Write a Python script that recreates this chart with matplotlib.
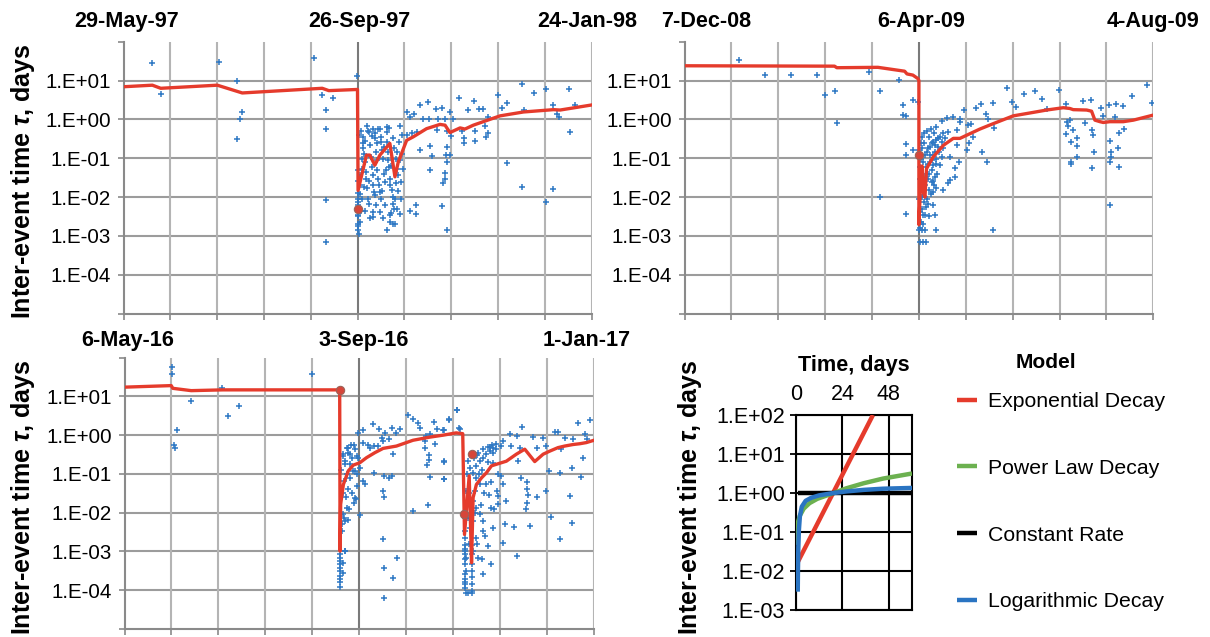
#!/usr/bin/env python3
"""Inter-event times around three Italian sequences plus the model sketch."""
import datetime as dt

import numpy as np
import matplotlib
matplotlib.use("Agg")
import matplotlib.pyplot as plt
from matplotlib.ticker import NullLocator

# ---- Data (days from the first date label, log10 of tau in days) ----------
p1_start = dt.date(1997, 5, 29)
p1_sc_day = [
    14.7, 19.1, 49.0, 58.0, 60.9, 59.5, 58.3, 97.6, 119.8, 101.7,
    107.3, 103.6, 104.1, 104.1, 104.1,
    120.0, 120.0, 120.0, 120.1, 120.0, 120.2, 120.3, 120.3, 120.3, 120.3,
    120.3, 120.7,
    145.5, 148.9, 152.0, 156.0, 160.1, 163.1, 167.4, 146.9, 153.4, 156.8,
    161.4, 164.9, 169.1, 172.2, 176.8, 179.7, 182.5, 184.2, 187.1, 192.2,
    194.3, 196.5, 204.4, 210.7, 216.6, 228.7, 220.5, 222.2, 223.1, 231.6,
    205.6,
    125.0, 126.0, 127.2, 130.6, 131.5, 134.9, 136.3, 141.7, 145.2, 147.7,
    150.3, 160.6, 166.1, 167.9, 173.4, 174.6, 174.6, 180.3, 180.3, 185.4,
    187.1, 185.7, 229.1,
    152.0, 157.2, 158.0, 157.2, 165.7, 165.4, 167.4, 166.1, 164.9, 164.9,
    163.7, 196.9, 204.4, 220.5, 216.6, 146.9, 150.0, 150.0, 163.1, 166.1,
    141.7,
    121.2, 121.2, 121.5, 121.5, 122.1, 122.1, 122.6, 122.9, 123.3, 123.8,
    124.3, 124.6, 125.0, 125.5, 126.0, 126.3, 126.7, 127.2, 127.7, 128.0,
    128.4, 128.0, 128.0, 128.9, 129.4, 129.8, 130.1, 130.6, 131.1, 131.5,
    131.5, 131.8, 132.3, 132.8, 133.2, 133.5, 134.0, 134.0, 134.9, 135.2,
    135.8, 136.3, 136.6, 136.9, 136.9, 137.5, 138.0, 138.0, 138.0, 138.3,
    138.7, 138.7, 139.2, 139.7, 140.0, 140.4, 140.9, 141.4, 141.7, 142.1,
    142.6, 143.1, 142.6, 139.2, 136.6,
    121.0, 121.8, 123.0, 124.0, 125.2, 127.9, 129.0, 130.0, 132.0, 133.8,
    135.5, 137.2, 139.5, 141.0, 142.5, 124.0, 126.5, 129.5, 133.0, 135.0,
    137.0, 122.5, 123.5, 126.0, 129.0, 132.5, 134.5, 121.0, 122.0, 140.5,
]
p1_sc_log = [
    1.46, 0.66, 1.48, 0.99, 0.19, 0.01, -0.51, 1.59, 1.11, 0.62,
    0.55, 0.25, -0.24, -2.08, -3.16,
    -1.30, -1.60, -1.90, -2.20, -2.50, -2.75, -2.04, -2.13, -2.47, -2.69,
    -2.86, -2.30,
    0.19, 0.14, 0.36, 0.44, 0.26, 0.30, 0.19, 0.06, 0.01, 0.00,
    0.00, 0.02, 0.01, 0.55, 0.24, 0.48, 0.27, 0.27, 0.06, 0.62,
    0.29, 0.42, 0.90, 0.68, 0.79, 0.77, 0.36, 0.15, 0.06, 0.37,
    0.23,
    -0.17, -0.33, -0.43, -0.24, -0.25, -0.19, -0.22, -0.17, -0.39, -0.34,
    -0.32, -0.28, -0.29, -0.42, -0.30, -0.49, -0.61, -0.29, -0.55, -0.18,
    -0.34, -0.46, -0.33,
    -0.79, -0.68, -0.94, -1.31, -0.71, -0.92, -0.92, -1.11, -1.37, -1.54,
    -1.65, -1.12, -1.75, -1.79, -2.14, -2.37, -2.20, -2.45, -2.24, -2.86,
    -2.45,
    -1.91, -1.70, -1.44, -2.64, -1.27, -1.01, -0.75, -0.62, -0.88, -1.10,
    -1.35, -1.53, -1.78, -2.04, -2.17, -0.67, -0.97, -1.22, -1.44, -1.70,
    -1.87, -2.39, -2.51, -0.49, -0.84, -1.05, -1.31, -1.53, -1.70, -1.87,
    -2.39, -2.04, -0.58, -0.79, -1.01, -1.40, -1.61, -2.20, -0.32, -0.58,
    -0.84, -1.22, -1.53, -1.70, -2.47, -1.83, -2.00, -2.17, -2.69, -0.49,
    -0.75, -2.30, -2.04, -1.01, -0.84, -1.27, -1.44, -0.58, -1.05, -1.61,
    -0.41, -1.27, -0.88, -2.69, -2.64,
    -0.40, -0.30, -0.45, -0.55, -0.30, -0.25, -0.35, -0.60, -0.45, -0.70,
    -1.05, -1.20, -1.65, -1.85, -2.05, -2.35, -2.55, -2.20, -2.55, -2.85,
    -2.40, -2.05, -1.75, -1.60, -1.95, -1.85, -1.30, -2.95, -2.35, -2.30,
]
p1_fit_day = [0.0, 14.8, 19.1, 48.1, 60.9, 101.9, 105.3, 120.0, 120.3, 124.6,
              126.3, 128.9, 131.5, 136.6, 139.2, 140.9, 145.2, 148.6, 155.4,
              162.3, 164.9, 167.4, 172.6, 175.1, 179.4, 184.5, 193.1, 205.1,
              220.5, 223.9, 240.0]
p1_fit_log = [0.84, 0.88, 0.80, 0.88, 0.68, 0.80, 0.74, 0.77, -1.83, -0.92,
              -0.92, -1.18, -0.92, -0.62, -1.48, -1.10, -0.54, -0.45, -0.24,
              -0.13, -0.15, -0.34, -0.22, -0.25, -0.15, -0.06, 0.09, 0.19,
              0.25, 0.24, 0.37]
p1_dot_day = [120.1]
p1_dot_log = [-2.30]

p2_start = dt.date(2008, 12, 7)
p2_sc_day = [
    27.8, 41.1, 54.6, 67.9, 72.0, 77.2, 78.0, 94.7, 99.9, 99.9,
    109.9, 112.0, 116.9, 113.3, 113.5, 116.9, 113.5, 113.5, 112.0, 119.7,
    120.5, 121.9, 123.6, 120.0, 121.4, 123.1,
    164.9, 173.9, 179.4, 182.8, 191.9, 167.5, 169.7, 185.7, 195.1, 204.2,
    208.1, 213.2, 217.5, 220.7, 224.6, 228.9, 236.6, 239.1, 214.4, 220.6,
    151.6, 149.2, 158.1, 154.3, 155.5, 143.2, 141.0, 146.5, 145.3, 158.6,
    144.4, 147.5, 145.8, 152.1, 154.7, 139.3, 139.6, 140.7, 138.4, 138.4,
    135.0, 135.9, 132.5, 134.2, 131.6, 137.6, 141.0,
    195.6, 197.3, 196.5, 198.7, 195.1, 197.8, 200.7, 200.7, 205.0, 208.4,
    209.3, 209.6, 208.4, 200.7, 197.8, 197.8, 217.8, 218.1, 218.1, 217.8,
    222.1, 222.4, 225.0, 222.4, 217.8, 158.1, 128.7,
    120.9, 122.2, 121.4, 123.6, 122.6, 124.8, 123.9, 126.0, 125.3, 127.3,
    127.7, 129.0, 126.5, 128.2, 129.4, 124.8, 123.1, 121.9, 120.9, 120.5,
    121.2, 122.2, 123.1, 123.9, 124.8, 125.6, 126.5, 127.3, 128.2, 129.0,
    129.9, 130.8, 130.4, 131.6, 129.0, 127.3, 126.5, 125.3, 123.6, 130.8,
    132.5, 133.3, 135.0, 135.9, 121.4, 120.9, 122.6, 123.9, 125.6, 127.3,
    128.7, 129.9, 131.6, 132.1, 120.5, 120.2, 120.5, 123.1, 127.3, 128.2,
    120.3, 121.0, 121.8, 122.8, 124.0, 125.0, 126.0, 127.5, 128.5, 121.5,
    122.0, 120.5, 123.0, 124.5, 126.5, 128.0, 125.0, 127.0,
]
p2_sc_log = [
    1.54, 1.13, 1.14, 1.14, 0.62, 0.73, -0.10, 1.23, 0.73, -2.00,
    1.01, 0.36, 0.51, 0.09, -0.64, -0.79, -0.92, -2.45, 0.10, 0.45,
    -3.16, -3.16, -3.16, -2.86, -2.86, -2.86,
    0.81, 0.66, 0.74, 0.52, 0.75, 0.44, 0.31, 0.26, 0.40, 0.48,
    0.50, 0.29, 0.38, 0.40, 0.35, 0.61, 0.89, 0.41, 0.09, 0.05,
    0.40, 0.30, 0.43, 0.13, 0.00, 0.24, 0.00, -0.11, -0.15, -0.22,
    -0.79, -0.45, -0.60, -0.84, -1.10, -0.28, -0.67, -1.10, -1.25, -1.48,
    -1.65, -1.57, -1.81, 0.04, -0.05, 0.07, -0.06,
    -0.08, -0.02, -0.17, -0.28, -0.37, -0.58, -0.48, -0.69, -0.09, -0.28,
    -0.41, -0.84, -1.24, -0.98, -1.10, -1.16, -0.56, -0.84, -0.97, -1.11,
    -0.75, -0.34, -0.25, -1.23, -2.20, -2.86, -2.86,
    -2.64, -2.47, -2.30, -2.26, -2.13, -2.17, -2.04, -1.91, -1.83, -1.87,
    -1.70, -1.78, -1.61, -1.48, -1.40, -1.53, -1.70, -1.96, -1.78, -1.53,
    -1.27, -1.10, -0.92, -0.84, -0.75, -0.71, -0.62, -0.58, -0.67, -0.54,
    -0.49, -0.45, -0.84, -0.97, -1.01, -1.18, -1.31, -1.40, -1.22, -1.18,
    -0.36, -0.49, -0.32, -0.97, -0.75, -1.01, -0.62, -1.40, -0.92, -0.92,
    -1.16, -0.71, -0.58, -0.75, -1.22, -2.04, -2.39, -2.47, -2.21, -2.47,
    -0.80, -0.60, -0.45, -0.35, -0.30, -0.45, -0.25, -0.35, -0.20, -2.00,
    -2.70, -2.80, -1.50, -1.15, -1.05, -0.85, -2.50, -1.60,
]
p2_fit_day = [0.0, 76.8, 78.0, 99.0, 112.7, 113.9, 116.9, 119.5, 120.0, 120.0,
              120.9, 121.6, 122.4, 123.1, 123.9, 127.3, 132.5, 137.6, 141.0,
              144.4, 151.2, 158.1, 168.3, 178.6, 185.4, 193.9, 197.3, 199.0,
              205.9, 208.4, 210.1, 212.7, 214.4, 217.8, 224.6, 229.8, 240.0]
p2_fit_log = [1.38, 1.37, 1.33, 1.34, 1.24, 1.17, 1.14, 1.05, 1.00, -2.71,
              -1.61, -1.20, -1.90, -2.00, -1.27, -0.97, -0.67, -0.49, -0.49,
              -0.41, -0.25, -0.11, 0.09, 0.18, 0.24, 0.30, 0.28, 0.25,
              0.24, 0.21, -0.02, -0.06, -0.08, -0.06, -0.06, -0.02, 0.11]
p2_dot_day = [120.0]
p2_dot_log = [-0.91]

p3_start = dt.date(2016, 5, 6)
p3_sc_day = [
    24.4, 24.4, 34.1, 49.8, 52.9, 58.5, 26.8, 25.1, 25.6, 95.7,
    110.2, 110.2, 110.2, 110.2, 110.2, 110.2, 110.2, 110.2, 110.2, 110.2,
    111.7, 111.7,
    114.5, 117.2, 111.7, 112.5, 115.1, 117.6, 118.5, 114.8, 111.7, 112.5,
    112.5,
    122.0, 119.5, 127.1, 130.2, 133.1, 136.5, 139.0, 141.0, 144.9, 147.5,
    150.0, 151.2, 154.3, 158.2, 159.9, 163.1, 165.8, 169.9, 171.2, 156.0,
    153.4, 158.7, 153.7, 155.4, 155.4, 154.8, 156.0, 163.2, 163.2, 147.5,
    155.1, 132.7, 136.5, 135.0, 137.0, 132.2, 132.7, 127.6, 125.4, 127.6,
    129.7, 124.6, 122.1, 132.2, 135.0, 131.4, 132.2, 132.5, 137.0, 139.5,
    132.5, 120.3,
    113.6, 111.9, 112.7, 114.4, 116.1, 115.3, 117.0, 113.6, 112.2, 114.4,
    116.1, 117.9, 117.3, 113.6, 112.2, 111.0, 119.5, 120.3, 122.0, 122.9,
    118.7, 115.6, 118.6, 111.0, 112.7,
    174.0, 174.0, 174.2, 174.0, 174.4, 174.0, 174.4, 174.0, 174.4,
    170.0, 166.0, 171.7, 162.9, 163.4, 163.2,
    174.0, 174.0, 174.0, 174.2, 174.0, 174.2, 174.0, 174.2,
    177.4, 177.4, 177.4, 177.4, 177.4, 177.4, 177.4, 177.4, 175.7,
    175.7, 176.5, 178.2, 179.9, 181.6, 183.3, 185.0, 186.7, 188.4, 190.1,
    192.7, 180.8, 183.3, 185.9, 188.4, 179.9, 181.6, 179.1, 178.2, 179.9,
    181.6, 183.3, 183.3, 179.6, 180.8, 182.5, 178.2, 175.7, 175.7, 174.8,
    185.0, 186.4, 187.1, 188.4, 185.9, 183.3, 187.1, 191.0, 191.0, 190.5,
    192.7, 193.5, 195.2, 194.4, 193.5, 199.0, 200.8, 188.4, 191.0,
    186.7, 188.0, 190.0, 193.5, 196.9, 200.7, 203.4, 197.8, 202.0, 201.2,
    202.9, 205.8, 205.8, 206.3, 205.8, 205.4, 207.1, 211.1, 208.8, 210.9,
    214.0, 215.7, 217.0, 215.3, 218.2, 219.9, 221.6, 223.3, 222.5, 228.7,
    227.6, 225.0, 229.3, 231.8, 234.4, 235.2, 238.1, 233.5, 228.9, 222.5,
    236.5,
    110.8, 111.5, 113.0, 114.0, 115.5, 118.0, 119.0, 175.0, 176.0, 176.5,
    178.5, 179.0, 180.0, 181.0, 182.0, 183.0, 184.0, 186.0, 187.5, 189.0,
    176.0, 178.0, 180.0, 184.5,
]
p3_sc_log = [
    1.77, 1.57, 0.88, 1.21, 0.50, 0.75, 0.13, -0.25, -0.32, 1.59,
    -3.07, -3.16, -3.25, -3.33, -3.42, -3.50, -3.63, -3.72, -3.80, -3.92,
    -3.29, -3.55,
    -0.32, -0.24, -0.54, -0.75, -0.49, -0.92, -1.65, -1.91, -2.04, -2.21,
    -2.99,
    0.13, 0.07, 0.28, 0.15, 0.07, 0.19, 0.07, 0.15, 0.52, 0.41,
    0.32, 0.19, -0.02, 0.35, 0.15, 0.13, 0.41, 0.65, 0.18, 0.04,
    -0.15, -0.22, -0.34, -0.51, -0.63, -0.77, -1.08, -0.67, -1.14, -1.96,
    -1.79, -1.05, -1.05, -1.10, -0.49, -1.44, -1.59, -0.97, -0.32, -0.28,
    -0.28, -0.24, -0.19, -0.15, -0.11, -0.06, -2.69, -3.42, -3.69, -3.16,
    -4.19, -2.06,
    -0.32, -0.49, -0.67, -0.45, -0.58, -0.75, -0.92, -1.01, -1.18, -1.40,
    -1.48, -1.61, -1.74, -1.87, -2.13, -2.30, -0.58, -0.84, -1.18, -1.27,
    -1.31, -0.24, -0.54, -2.47, -2.99,
    -2.13, -2.47, -2.82, -2.99, -3.16, -3.33, -3.50, -3.80, -4.06,
    0.65, 0.39, 0.17, 0.13, -0.68, -1.13,
    -2.64, -2.94, -3.07, -3.20, -3.59, -3.72, -3.85, -3.93,
    -2.82, -3.07, -3.33, -3.50, -3.67, -3.85, -4.02, -4.07, -4.07,
    -0.67, -0.84, -0.97, -0.79, -0.67, -0.58, -0.49, -0.41, -0.32, -0.36,
    -0.28, -0.45, -0.36, -0.30, -0.45, -1.10, -1.27, -1.44, -1.70, -1.87,
    -2.04, -2.21, -2.47, -2.64, -3.16, -3.20, -2.21, -1.78, -2.13, -1.44,
    -1.27, -1.53, -1.87, -2.39, -2.86, -3.59, -3.31, -1.57, -1.78, -1.44,
    -1.05, -1.27, -1.70, -2.30, -2.77, -2.37, -3.12, -0.71, -1.01,
    -0.30, -0.26, -0.22, -0.15, 0.04, -0.02, 0.22, -0.28, -0.32, -0.67,
    -1.10, -1.22, -1.40, -1.53, -1.74, -1.91, -2.34, -1.59, -0.04, -0.32,
    -0.06, -0.28, -0.92, -1.44, -2.11, 0.09, 0.09, -0.36, -0.97, -0.84,
    -1.57, -0.06, -0.11, 0.32, -0.58, 0.02, 0.40, -1.08, -2.27, -2.67,
    -0.10,
    -0.90, -1.50, -1.60, -2.20, -1.10, -0.35, -1.00, -1.00, -1.50, -2.40,
    -0.60, -2.00, -0.50, -1.00, -1.80, -0.90, -1.50, -0.70, -1.20, -1.90,
    -2.80, -3.00, -2.80, -2.60,
]
p3_fit_day = [0.0, 23.9, 24.7, 34.1, 50.3, 110.0, 110.2, 110.5, 111.9, 114.4,
              117.0, 120.3, 123.7, 128.0, 132.2, 139.0, 147.5, 156.0, 162.7,
              169.5, 172.9, 173.8, 176.2, 177.4, 178.2, 179.9, 182.5, 185.0,
              187.6, 190.1, 195.2, 200.3, 204.6, 209.7, 214.0, 217.4, 221.6,
              225.0, 229.3, 232.7, 236.1, 240.0]
p3_fit_log = [1.24, 1.28, 1.21, 1.15, 1.17, 1.17, -2.99, -1.78, -1.27, -0.92,
              -0.77, -0.71, -0.58, -0.45, -0.34, -0.28, -0.13, -0.05, 0.00,
              0.06, 0.04, -2.56, -1.05, -3.29, -1.61, -1.27, -1.10, -0.97,
              -0.79, -0.75, -0.67, -0.49, -0.36, -0.68, -0.49, -0.41, -0.32,
              -0.28, -0.24, -0.22, -0.19, -0.13]
p3_dot_day = [110.0, 177.4, 173.3]
p3_dot_log = [1.17, -0.49, -2.04]

# model sketch: time in days, log10 tau
model_names = ["Exponential Decay", "Power Law Decay", "Constant Rate",
               "Logarithmic Decay"]
exp_day = [0.0, 39.8]
exp_log = [-1.86, 2.0]
pow_day = [0.0, 0.3, 1.0, 2.0, 4.0, 7.0, 11.0, 15.0, 19.5, 26.0, 35.0, 45.0,
           60.0]
pow_log = [-1.33, -1.0, -0.75, -0.58, -0.40, -0.26, -0.15, -0.08, 0.0, 0.12,
           0.25, 0.37, 0.50]
const_day = [0.9, 60.0]
const_log = [0.0, 0.0]
logd_day = [0.9, 1.0, 1.2, 1.5, 2.0, 3.0, 5.0, 8.0, 12.0, 19.5, 26.0, 35.0,
            45.0, 60.0]
logd_log = [-2.53, -2.0, -1.4, -0.95, -0.6, -0.35, -0.2, -0.12, -0.06, 0.0,
            0.04, 0.08, 0.11, 0.13]

RED = "#e53b2c"
BLUE = "#2e78c4"
GREEN = "#6cb150"
MBLUE = "#2a74c2"

W, H = 1210, 637

plt.rcParams["font.family"] = ["Liberation Sans", "DejaVu Sans"]
plt.rcParams["mathtext.fontset"] = "custom"
plt.rcParams["mathtext.rm"] = "Liberation Sans:bold"
plt.rcParams["mathtext.it"] = "Liberation Sans:bold:italic"
plt.rcParams["mathtext.bf"] = "Liberation Sans:bold"


def date_label(d):
    return f"{d.day}-{d.strftime('%b-%y')}"


def seq_panel(fig, rect, start, sc_day, sc_log, fit_day, fit_log, dot_day,
              dot_log, label_dx=(0, 0, 0), label_dy=20):
    ax = fig.add_axes(rect)
    ax.set_yscale("log")
    ax.set_xlim(0, 240)
    ax.set_ylim(1e-5, 1e2)
    ax.set_xticks(np.arange(0, 241, 24))
    ax.set_xticklabels([])
    decades = 10.0 ** np.arange(-5, 3)
    ax.set_yticks(decades)
    ax.yaxis.set_minor_locator(NullLocator())
    ax.set_yticklabels(["", "1.E-04", "1.E-03", "1.E-02", "1.E-01",
                        "1.E+00", "1.E+01", ""])
    for d in decades[1:-1]:
        ax.axhline(d, color="#9c9c9c", lw=1.5, zorder=1)
    for x in np.arange(24, 241, 24):
        c = "#7a7a7a" if x == 120 else "#b4b4b4"
        ax.axvline(x, color=c, lw=1.5, zorder=1)
    for s in ("top", "right"):
        ax.spines[s].set_visible(False)
    for s in ("left", "bottom"):
        ax.spines[s].set_color("#8a8a8a")
        ax.spines[s].set_linewidth(1.5)
    ax.tick_params(direction="out", length=4, width=1.2, color="#8a8a8a",
                   labelsize=14.8, pad=5)

    ax.plot(sc_day, 10.0 ** np.array(sc_log), "+", color=BLUE, ms=4.6,
            mew=1.1, zorder=3)
    ax.plot(fit_day, 10.0 ** np.array(fit_log), color=RED, lw=2.4,
            zorder=4, solid_joinstyle="round")
    ax.plot(dot_day, 10.0 ** np.array(dot_log), "o", ms=6, mfc="#d6463a",
            mec="#9c6258", mew=0.8, zorder=5)

    for d, dx in zip((0, 120, 240), label_dx):
        ax.annotate(date_label(start + dt.timedelta(days=d)), xy=(d, 1.0),
                    xycoords=("data", "axes fraction"),
                    xytext=(dx * 0.72, label_dy * 0.72),
                    textcoords="offset points", ha="center", va="center",
                    fontsize=15.6, fontweight="bold")
    return ax


def main():
    fig = plt.figure(figsize=(W / 100, H / 100), dpi=100)

    def rect(x0, x1, y0, y1):
        return [x0 / W, 1 - y1 / H, (x1 - x0) / W, (y1 - y0) / H]

    seq_panel(fig, rect(123.5, 591.5, 41.7, 313.5), p1_start, p1_sc_day,
              p1_sc_log, p1_fit_day, p1_fit_log, p1_dot_day, p1_dot_log,
              label_dx=(3, 2, -4))
    seq_panel(fig, rect(684.5, 1153.3, 41.7, 313.5), p2_start, p2_sc_day,
              p2_sc_log, p2_fit_day, p2_fit_log, p2_dot_day, p2_dot_log,
              label_dx=(22, 2, 0))
    seq_panel(fig, rect(124.5, 594, 357.7, 629), p3_start, p3_sc_day,
              p3_sc_log, p3_fit_day, p3_fit_log, p3_dot_day, p3_dot_log,
              label_dx=(3, 4, -7), label_dy=17)

    ylab = r"Inter-event time $\tau$, days"
    fig.text(23 / W, 1 - 181 / H, ylab, rotation=90, ha="center",
             va="center", fontsize=18, fontweight="bold")
    fig.text(23 / W, 1 - 497 / H, ylab, rotation=90, ha="center",
             va="center", fontsize=18, fontweight="bold")
    fig.text(690 / W, 1 - 497 / H, ylab, rotation=90, ha="center",
             va="center", fontsize=18, fontweight="bold")

    # ---- model sketch -----------------------------------------------------
    ax = fig.add_axes(rect(796, 912, 415, 610))
    ax.set_yscale("log")
    ax.set_xlim(0, 60)
    ax.set_ylim(1e-3, 1e2)
    ax.xaxis.tick_top()
    ax.set_xticks([0, 24, 48])
    ax.set_yticks(10.0 ** np.arange(-3, 3))
    ax.yaxis.set_minor_locator(NullLocator())
    ax.set_yticklabels(["1.E-03", "1.E-02", "1.E-01", "1.E+00", "1.E+01",
                        "1.E+02"])
    ax.grid(True, color="black", lw=1.5)
    for s in ax.spines.values():
        s.set_color("black")
        s.set_linewidth(1.5)
    ax.tick_params(direction="out", length=4, width=1.3, labelsize=15.5,
                   pad=4)
    ax.tick_params(axis="x", length=0, pad=7)
    ax.set_title("Time, days", fontsize=15.6, fontweight="bold", pad=32)

    lines = []
    for xs, ys, c in ((exp_day, exp_log, RED), (pow_day, pow_log, GREEN),
                      (const_day, const_log, "black"),
                      (logd_day, logd_log, MBLUE)):
        ln, = ax.plot(xs, 10.0 ** np.array(ys), color=c, lw=3.2,
                      solid_capstyle="butt", zorder=3, clip_on=True)
        lines.append(ln)

    fig.text(1046 / W, 1 - 363 / H, "Model", ha="center", va="center",
             fontsize=15, fontweight="bold")
    fig.legend(lines, model_names, loc="upper left",
               bbox_to_anchor=(957 / W, 1 - 392 / H), frameon=False,
               fontsize=15.3, handlelength=0.95, handletextpad=0.5,
               labelspacing=2.25, borderpad=0, borderaxespad=0)

    fig.savefig("out.png", dpi=100)


if __name__ == "__main__":
    main()
